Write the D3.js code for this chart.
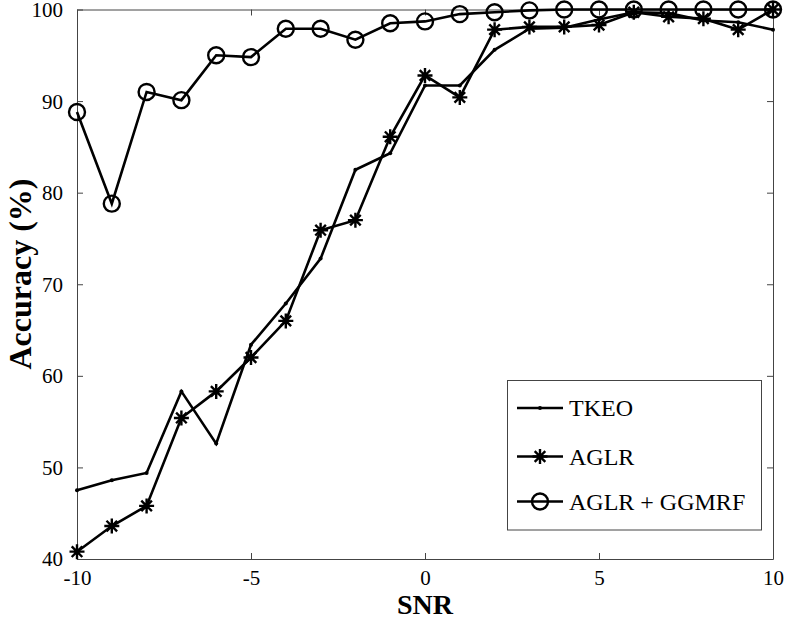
<!DOCTYPE html>
<html>
<head>
<meta charset="utf-8">
<script src="https://cdn.jsdelivr.net/npm/d3@7"></script>
<style>
  html, body { margin: 0; padding: 0; background: #fff; }
  svg { display: block; }
  svg text { font-family: "Liberation Serif", "Times New Roman", Times, "DejaVu Serif", serif !important; fill: #000; }
</style>
</head>
<body>
<svg id="chart" width="785" height="619"></svg>
<script>
const snr = [-10,-9,-8,-7,-6,-5,-4,-3,-2,-1,0,1,2,3,4,5,6,7,8,9,10];
const tkeo = [47.5,48.6,49.4,58.3,52.6,63.4,67.9,72.8,82.5,84.3,91.7,91.7,95.6,97.9,98.0,98.9,99.7,99.6,98.8,98.6,97.8];
const aglr = [40.8,43.6,45.8,55.4,58.3,62.0,66.0,75.9,77.0,86.1,92.8,90.4,97.8,98.1,98.1,98.3,99.7,99.2,99.0,97.8,100];
const ggmrf = [88.8,78.8,91.0,90.1,95.0,94.8,97.9,97.9,96.7,98.5,98.7,99.5,99.7,99.9,100,100,100,100,100,100,100];
const seriesNames = ["TKEO","AGLR","AGLR + GGMRF"];
const xTicks = [-10,-5,0,5,10];
const yTicks = [40,50,60,70,80,90,100];
const xLabel = "SNR";
const yLabel = "Accuracy (%)";

const W = 785, H = 619;
const m = {left: 77, right: 12, top: 9.5, bottom: 60};
const svg = d3.select("#chart");
const x = d3.scaleLinear().domain([-10,10]).range([m.left, W - m.right]);
const y = d3.scaleLinear().domain([40,100]).range([H - m.bottom, m.top]);

const FONT = '"Liberation Serif", "Times New Roman", Times, "DejaVu Serif", serif';
const axisColor = "#444";
const tickLen = 6;
const fmt = d => String(d);
const gB = svg.append("g").attr("transform",`translate(0,${y(40)})`)
  .call(d3.axisBottom(x).tickValues(xTicks).tickSizeInner(-tickLen).tickSizeOuter(0).tickFormat(fmt));
const gT = svg.append("g").attr("transform",`translate(0,${y(100)})`)
  .call(d3.axisTop(x).tickValues(xTicks).tickSizeInner(-tickLen).tickSizeOuter(0).tickFormat(""));
const gL = svg.append("g").attr("transform",`translate(${x(-10)},0)`)
  .call(d3.axisLeft(y).tickValues(yTicks).tickSizeInner(-tickLen).tickSizeOuter(0).tickPadding(14).tickFormat(fmt));
const gR = svg.append("g").attr("transform",`translate(${x(10)},0)`)
  .call(d3.axisRight(y).tickValues(yTicks).tickSizeInner(-tickLen).tickSizeOuter(0).tickFormat(""));
[gB,gT,gL,gR].forEach(g => {
  g.attr("font-family", FONT);
  g.select(".domain").attr("stroke", axisColor).attr("stroke-width", 1);
  g.selectAll(".tick line").attr("stroke", axisColor).attr("stroke-width", 1);
  g.selectAll("text").attr("font-size", 21).attr("fill","#000");
});
gB.selectAll(".tick text").attr("dy", null).attr("y", 25.5);
gL.selectAll(".tick text").attr("dy", "0.33em");

svg.append("text").attr("x", (x(-10)+x(10))/2).attr("y", 614).attr("font-family", FONT)
  .attr("text-anchor","middle").attr("font-size", 28).attr("font-weight","bold").text(xLabel);
svg.append("text").attr("transform",`translate(31,274) rotate(-90)`).attr("font-family", FONT)
  .attr("text-anchor","middle").attr("font-size", 32).attr("font-weight","bold").text(yLabel);

const lw = 2.6;
const line = d3.line().x((d,i)=>x(snr[i])).y(d=>y(d));
const starPath = s => { const d = s*0.707; return `M${-s},0L${s},0M0,${-s}L0,${s}M${-d},${-d}L${d},${d}M${-d},${d}L${d},${-d}`; };

function drawSeries(vals, marker) {
  const g = svg.append("g");
  g.append("path").datum(vals).attr("d", line).attr("fill","none").attr("stroke","#000").attr("stroke-width", lw).attr("stroke-linejoin","miter");
  const pts = g.selectAll("g.pt").data(vals).join("g").attr("transform",(d,i)=>`translate(${x(snr[i])},${y(d)})`);
  drawMarker(pts, marker);
}
function drawMarker(sel, marker) {
  if (marker === "dot") sel.append("circle").attr("r", 2).attr("fill","#000");
  else if (marker === "star") sel.append("path").attr("d", starPath(7.5)).attr("stroke","#000").attr("stroke-width", 2.4).attr("fill","none");
  else sel.append("circle").attr("r", 8).attr("fill","none").attr("stroke","#000").attr("stroke-width", 2.4);
}
drawSeries(tkeo, "dot");
drawSeries(aglr, "star");
drawSeries(ggmrf, "circle");

const lg = svg.append("g");
lg.append("rect").attr("x", 507.5).attr("y", 380.5).attr("width", 254).attr("height", 149.5)
  .attr("fill","#fff").attr("stroke", axisColor).attr("stroke-width", 1);
const markers = ["dot","star","circle"];
const rowY = [408, 456.5, 501.5];
seriesNames.forEach((name, i) => {
  lg.append("line").attr("x1", 517).attr("x2", 563).attr("y1", rowY[i]).attr("y2", rowY[i]).attr("stroke","#000").attr("stroke-width", lw);
  drawMarker(lg.append("g").attr("transform",`translate(540,${rowY[i]})`), markers[i]);
  lg.append("text").attr("x", 569).attr("y", rowY[i]).attr("dy","0.35em").attr("font-family", FONT).attr("font-size", 24).text(name);
});
</script>
</body>
</html>
